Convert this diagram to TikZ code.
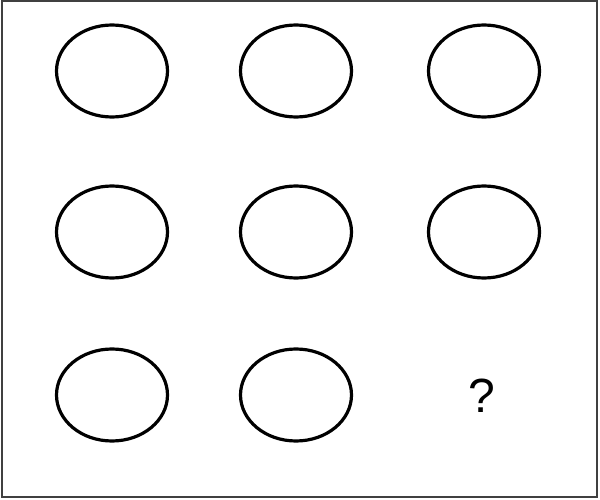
\documentclass[tikz,border=0pt]{standalone}
\usepackage{fontspec}
\setmainfont{Liberation Sans}
\usetikzlibrary{shapes.geometric}

\begin{document}
\begin{tikzpicture}[x=1pt,y=-1pt,
  cell/.style={ellipse,draw,line width=3.2pt,minimum width=111pt,minimum height=92pt,inner sep=0pt}]
\useasboundingbox (0,0) rectangle (600,500);
\draw[line width=2pt,black!75] (2,1.5) rectangle (597,497);
\node[cell] (A1) at (112,71) {};
\node[cell] (A2) at (296,71) {};
\node[cell] (A3) at (484,71) {};
\node[cell] (B1) at (112,232) {};
\node[cell] (B2) at (296,232) {};
\node[cell] (B3) at (484,232) {};
\node[cell] (C1) at (112,395) {};
\node[cell] (C2) at (296,395) {};
\node (Q) at (482,396) {\fontsize{48}{48}\selectfont ?};
\end{tikzpicture}
\end{document}
